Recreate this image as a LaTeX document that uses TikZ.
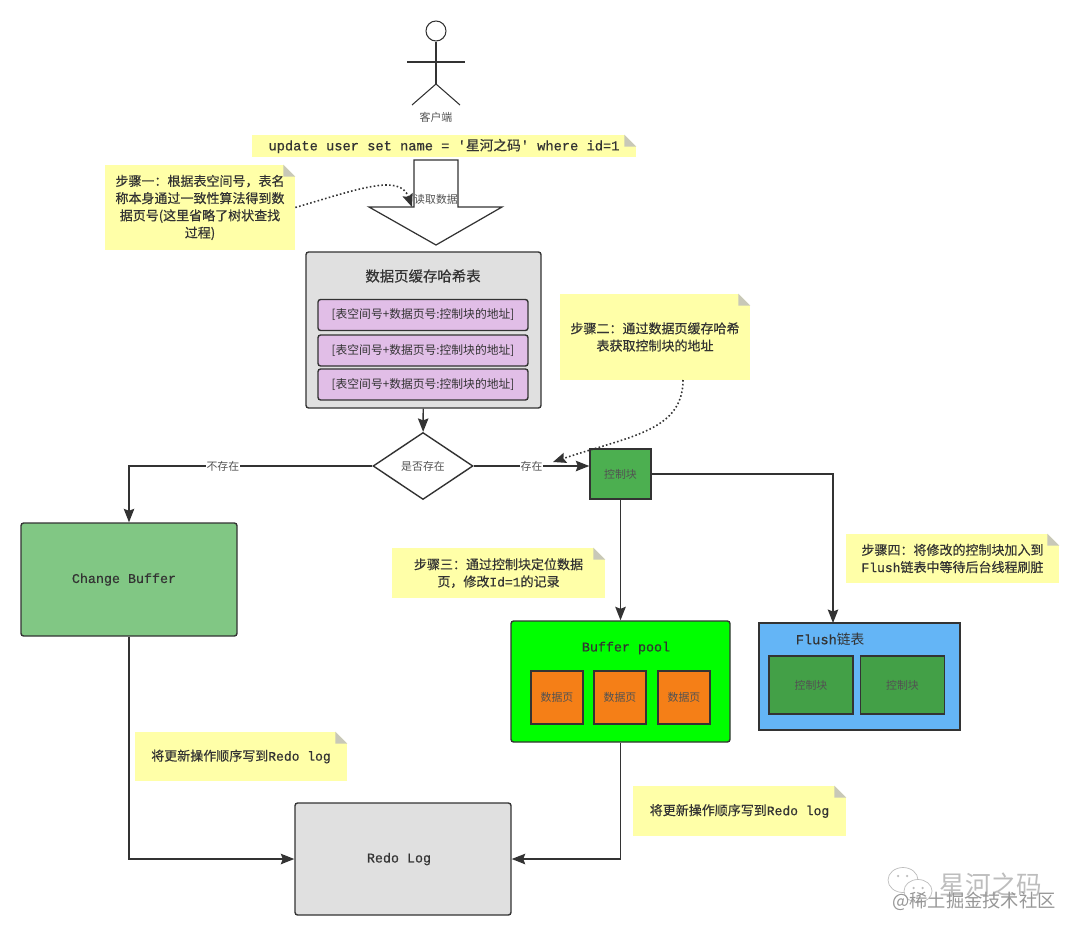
\documentclass[tikz,border=0pt]{standalone}
\usepackage{fontspec}
\setmainfont{Noto Sans CJK SC}
\setmonofont[FakeBold=0.5]{Liberation Mono}
\newfontfamily\notefont[FakeBold=0.3]{Noto Sans CJK SC}
\usepackage{xcolor}
\usetikzlibrary{arrows.meta, positioning, shapes.geometric, calc}
\definecolor{noteyellow}{HTML}{FFFFA8}
\definecolor{foldgray}{HTML}{C8C8B8}
\definecolor{linegray}{HTML}{333333}
\definecolor{boxgray}{HTML}{E0E0E0}
\definecolor{rowpurple}{HTML}{E1BEE7}
\definecolor{changegreen}{HTML}{81C784}
\definecolor{ctrlgreen}{HTML}{4CAF50}
\definecolor{ctrldark}{HTML}{43A047}
\definecolor{poolgreen}{HTML}{00FF00}
\definecolor{pageorange}{HTML}{F57F17}
\definecolor{flushblue}{HTML}{64B5F6}
\definecolor{markgray}{HTML}{BDBDBD}
\newcommand{\txtsize}[1]{\fontsize{#1}{9.8}\selectfont}

\begin{document}
\begin{tikzpicture}[
    box/.style={draw=linegray, line width=0.8pt, fill=#1, rounded corners=1.5pt, text=linegray},
    square/.style={draw=linegray, line width=0.8pt, fill=#1, text=linegray!85!black},
    note/.style={fill=noteyellow, inner sep=0pt, align=center, text=linegray, font=\txtsize{7.4}\notefont},
    small/.style={font=\txtsize{6.2}, text=linegray!85},
    title/.style={font=\txtsize{7.8}, text=linegray},
    msg/.style={-{Stealth[length=2.7mm, width=2.1mm, inset=0.4mm]}, line width=0.8pt, draw=linegray},
    dots/.style={-{Stealth[length=2.6mm, width=2.1mm, inset=0.4mm]}, dash pattern=on 0.9pt off 1.3pt, line width=0.9pt, draw=linegray},
]
    \useasboundingbox (0,0) rectangle (21.6,18.72);

    % Client
    \node[draw=linegray, circle, line width=0.6pt, minimum size=0.4cm, inner sep=0pt] (head) at (8.72, 18.10) {};
    \coordinate (hip) at (8.72, 17.04);
    \draw[linegray, line width=0.6pt] (head.south) -- (hip);
    \draw[linegray, line width=0.6pt] (8.14, 17.48) -- (9.30, 17.48);
    \draw[linegray, line width=0.6pt] (8.24, 16.62) -- (hip) -- (9.20, 16.62);
    \node[small] (client) at (8.72, 16.38) {客户端};

    % Notes
    \node[note, minimum width=7.68cm, minimum height=0.44cm] (sql) at (8.88, 15.80) {\txtsize{7.8}\ttfamily update user set name = '{\notefont 星河之码}' where id=1};
    \node[note, minimum width=3.8cm, minimum height=1.7cm] (note1) at (4.0, 14.57) {步骤一：根据表空间号，表名\\称本身通过一致性算法得到数\\据页号(这里省略了树状查找\\过程)};
    \node[note, minimum width=3.8cm, minimum height=1.72cm] (note2) at (13.1, 11.98) {步骤二：通过数据页缓存哈希\\表获取控制块的地址};
    \node[note, minimum width=4.26cm, minimum height=1.0cm] (note3) at (9.97, 7.26) {步骤三：通过控制块定位数据\\页，修改{\ttfamily Id=1}的记录};
    \node[note, minimum width=4.26cm, minimum height=0.98cm] (note4) at (19.05, 7.55) {步骤四：将修改的控制块加入到\\{\ttfamily Flush}链表中等待后台线程刷脏};
    \node[note, minimum width=4.24cm, minimum height=0.98cm] (note5) at (4.82, 3.59) {将更新操作顺序写到{\ttfamily Redo log}};
    \node[note, minimum width=4.26cm, minimum height=1.0cm] (note6) at (14.79, 2.50) {将更新操作顺序写到{\ttfamily Redo log}};
    \foreach \n in {sql, note1, note2, note3, note4, note5, note6} {
        \fill[white] ($(\n.north east)+(-0.24,0)$) -- (\n.north east) -- ($(\n.north east)+(0,-0.24)$) -- cycle;
        \fill[foldgray] ($(\n.north east)+(-0.24,0)$) -- ($(\n.north east)+(0,-0.24)$) -- ($(\n.north east)+(-0.24,-0.24)$) -- cycle;
    }

    % Read arrow
    \draw[linegray, line width=0.7pt, fill=white] (8.28, 15.52) -- (9.16, 15.52) -- (9.16, 14.58) -- (10.04, 14.58) -- (8.72, 13.82) -- (7.38, 14.58) -- (8.28, 14.58) -- cycle;
    \node[small] (read) at (8.72, 14.74) {读取数据};
    \coordinate (readin) at (8.24, 14.58);

    % Hash table
    \node[box=boxgray, minimum width=4.7cm, minimum height=3.12cm] (hash) at (8.47, 12.12) {};
    \node[title, font=\txtsize{8.2}\notefont] (hashtitle) at (8.46, 13.20) {数据页缓存哈希表};
    \foreach \y/\n in {12.42/rowa, 11.71/rowb, 11.03/rowc} {
        \node[box=rowpurple, minimum width=4.2cm, minimum height=0.62cm, font=\txtsize{6.7}] (\n) at (8.46, \y) {[表空间号+数据页号:控制块的地址]};
    }

    % Decision
    \node[draw=linegray, line width=0.8pt, fill=white, diamond, aspect=1.5, inner sep=0pt, minimum width=2cm, minimum height=1.34cm, small] (exists) at (8.46, 9.40) {是否存在};
    \node[square=ctrlgreen, minimum width=1.22cm, minimum height=1cm, small] (ctrl) at (12.41, 9.24) {控制块};

    % Stores
    \node[box=changegreen, minimum width=4.32cm, minimum height=2.26cm, title, font=\txtsize{7.6}\ttfamily] (change) at (2.58, 7.13) {Change Buffer\hspace*{0.2cm}};
    \node[box=boxgray, minimum width=4.32cm, minimum height=2.24cm, title, font=\txtsize{7.6}\ttfamily] (redo) at (8.06, 1.54) {Redo Log\hspace*{0.16cm}};

    \node[box=poolgreen, minimum width=4.38cm, minimum height=2.42cm] (pool) at (12.41, 5.09) {};
    \node[title, font=\txtsize{7.6}\ttfamily] (pooltitle) at (12.52, 5.76) {Buffer pool};
    \foreach \x/\n in {11.14/pagea, 12.40/pageb, 13.68/pagec} {
        \node[square=pageorange, minimum width=1.04cm, minimum height=1.06cm, small] (\n) at (\x, 4.77) {数据页};
    }

    \node[square=flushblue, minimum width=4.02cm, minimum height=2.14cm] (flush) at (17.19, 5.19) {};
    \node[title, font=\txtsize{7.8}] (flushtitle) at (16.60, 5.94) {{\ttfamily Flush}链表};
    \foreach \x/\n in {16.22/blocka, 18.05/blockb} {
        \node[square=ctrldark, minimum width=1.68cm, minimum height=1.16cm, small] (\n) at (\x, 5.02) {控制块};
    }
    \coordinate (flushin) at (16.66, 6.26);

    % Connectors
    \draw[msg] (hash) -- (exists);
    \draw[msg] (exists.west) -| node[pos=0.307, small, fill=white, inner sep=0.5pt] (no) {不存在} (change.north);
    \draw[msg] (exists.east) -- node[pos=0.5, small, fill=white, inner sep=0.5pt] (yes) {存在} (exists.east -| ctrl.west);
    \draw[msg] (ctrl.south) -- (pool.north);
    \draw[msg] (ctrl.east) -| (flushin);
    \draw[msg] (change.south) |- (redo.west);
    \draw[msg] (pool.south) |- (redo.east);

    \coordinate (note2out) at (13.66, 11.12);
    \coordinate (ctrlin) at (11.06, 9.48);
    \draw[dots] (note1.east) .. controls (7.2, 14.95) and (8.0, 15.25) .. (readin);
    \draw[dots] (note2out) .. controls (13.66, 10.1) and (12.6, 10.0) .. (ctrlin);

    % Watermark
    \draw[markgray, line width=0.4pt, fill=white] (18.06, 1.12) ellipse (0.30 and 0.25);
    \draw[markgray, line width=0.4pt, fill=white] (18.36, 0.90) ellipse (0.28 and 0.23);
    \foreach \x/\y in {17.96/1.20, 18.14/1.20, 18.27/0.96, 18.45/0.96} {
        \fill[markgray] (\x, \y) circle (0.025);
    }
    \node[font=\txtsize{14.6}, text=markgray] (markname) at (19.82, 1.02) {星河之码};
    \node[font=\txtsize{10.4}, text=markgray!80!black] (marksite) at (19.48, 0.70) {@稀土掘金技术社区};
\end{tikzpicture}
\end{document}
